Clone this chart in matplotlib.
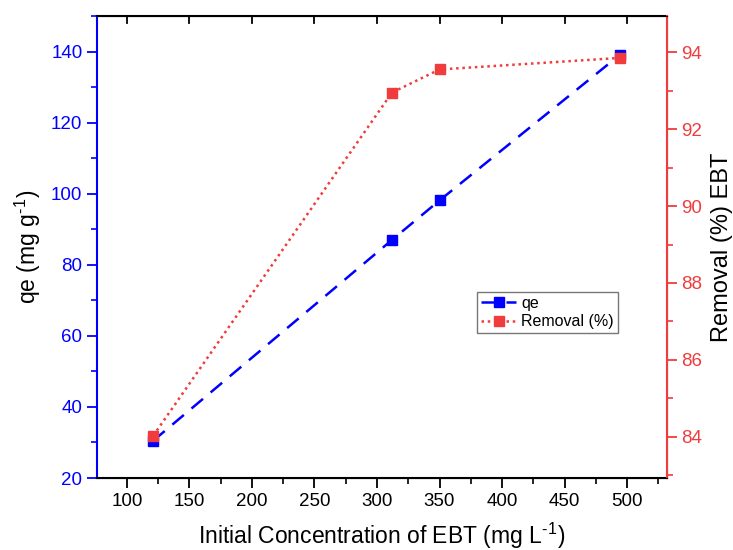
import matplotlib
matplotlib.use('Agg')
from matplotlib import pyplot as plt
from matplotlib.ticker import MultipleLocator

# Data
conc = [121, 312, 350, 494]
qe = [30.5, 87.0, 98.1, 139.0]
removal = [84.03, 92.95, 93.55, 93.85]

blue = '#0000FF'
red = '#F03C3C'

plt.rcParams['font.family'] = ['Liberation Sans', 'DejaVu Sans']
plt.rcParams['mathtext.fontset'] = 'custom'
plt.rcParams['mathtext.rm'] = 'Liberation Sans'
plt.rcParams['axes.unicode_minus'] = False

fig = plt.figure(figsize=(7.33, 5.5), dpi=100)
ax = fig.add_axes([0.1323, 0.1309, 0.7777, 0.84])

l1, = ax.plot(conc, qe, color=blue, linestyle=(0, (6, 4)), linewidth=1.8,
              marker='s', markersize=6.5, label='qe')
ax.set_xlim(76, 532)
ax.set_ylim(20, 150)
ax.xaxis.set_minor_locator(MultipleLocator(25))
ax.yaxis.set_minor_locator(MultipleLocator(10))
ax.set_yticks([20, 40, 60, 80, 100, 120, 140])
ax.set_xticks([100, 150, 200, 250, 300, 350, 400, 450, 500])
ax.tick_params(axis='x', which='major', direction='out', length=7, width=1.3,
               labelsize=13.5, top=False)
ax.tick_params(axis='x', which='minor', direction='out', length=4, width=1.2, top=False)
ax.tick_params(axis='y', which='major', direction='out', length=7, width=1.3,
               labelsize=13.5, colors=blue, labelcolor=blue)
ax.tick_params(axis='y', which='minor', direction='out', length=4, width=1.2, colors=blue)
ax.spines['left'].set_color(blue)
ax.spines['left'].set_linewidth(1.5)
ax.spines['bottom'].set_linewidth(1.5)
ax.spines['top'].set_linewidth(1.5)
ax.set_xlabel('Initial Concentration of EBT (mg L$^{\u2010}$$^{1}$)', fontsize=16.5, labelpad=8)
ax.set_ylabel('qe (mg g$^{\u2010}$$^{1}$)', fontsize=16.5, labelpad=6)

# top ticks pointing inward
for x in [100, 150, 200, 250, 300, 350, 400, 450, 500]:
    ax.plot([x, x], [150, 148.0], color='black', lw=1.3, clip_on=False)

ax2 = ax.twinx()
l2, = ax2.plot(conc, removal, color=red, linestyle=(0, (1, 1.5)), linewidth=1.8,
               marker='s', markersize=6.5, label='Removal (%)')
ax2.set_ylim(82.93, 94.94)
ax2.yaxis.set_major_locator(MultipleLocator(2))
ax2.yaxis.set_minor_locator(MultipleLocator(1))
ax2.tick_params(axis='y', which='major', direction='out', length=7, width=1.3,
                labelsize=13.5, colors=red, labelcolor=red)
ax2.tick_params(axis='y', which='minor', direction='out', length=4, width=1.2, colors=red)
ax2.spines['right'].set_color(red)
ax2.spines['right'].set_linewidth(1.5)
ax2.spines['left'].set_visible(False)
ax2.set_ylabel('Removal (%) EBT', fontsize=17, labelpad=6)

leg = fig.legend(handles=[l1, l2], loc='upper left', bbox_to_anchor=(477 / 733, 1 - 292 / 550),
                 fontsize=11.5, frameon=True, fancybox=False, edgecolor='#555555',
                 handlelength=2.2, borderpad=0.25, labelspacing=0.2, handletextpad=0.3,
                 borderaxespad=0)
leg.get_frame().set_linewidth(1.0)

fig.savefig('out.png', dpi=100)
